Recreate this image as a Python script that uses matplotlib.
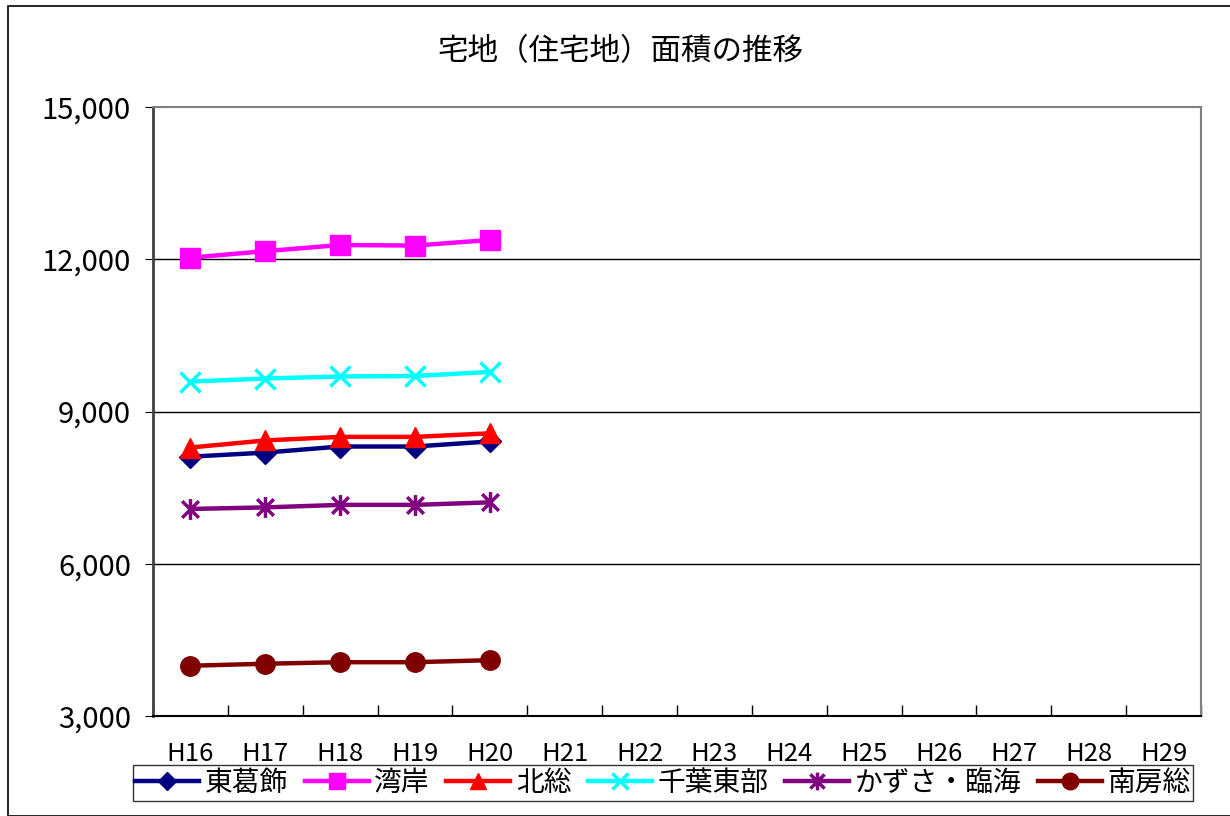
import matplotlib
matplotlib.use("Agg")
import matplotlib.pyplot as plt
from matplotlib.path import Path
from matplotlib.patches import Rectangle
from matplotlib.ticker import FuncFormatter, FixedLocator
import numpy as np

plt.rcParams['font.family'] = ['Noto Sans CJK JP', 'DejaVu Sans']

years = ['H16', 'H17', 'H18', 'H19', 'H20', 'H21', 'H22', 'H23',
         'H24', 'H25', 'H26', 'H27', 'H28', 'H29']

higashikatsushika = [8110, 8190, 8310, 8310, 8410]
wangan = [12030, 12160, 12280, 12270, 12380]
hokuso = [8290, 8430, 8500, 8500, 8570]
chiba_tobu = [9590, 9650, 9690, 9700, 9780]
kazusa_rinkai = [7080, 7110, 7160, 7160, 7210]
minamiboso = [3990, 4030, 4060, 4060, 4100]

names = ['東葛飾', '湾岸', '北総', '千葉東部', 'かずさ・臨海', '南房総']
colors = ['#000080', '#FF00FF', '#FF0000', '#00FFFF', '#800080', '#800000']

# excel style star: vertical stroke plus an x
star = Path([(0, -1), (0, 1), (-0.8, -0.8), (0.8, 0.8), (-0.8, 0.8), (0.8, -0.8)],
            [Path.MOVETO, Path.LINETO, Path.MOVETO, Path.LINETO, Path.MOVETO, Path.LINETO])
markers = ['D', 's', '^', 'x', star, 'o']
sizes = [11, 14, 14, 14, 15, 14]

series = [higashikatsushika, wangan, hokuso, chiba_tobu, kazusa_rinkai, minamiboso]

fig = plt.figure(figsize=(12.3, 8.16), dpi=100)
fig.patches.append(Rectangle((8 / 1230, 0), 1.2, 1 - 6 / 816, transform=fig.transFigure,
                             fill=False, edgecolor='black', linewidth=1.2))
ax = fig.add_axes([153 / 1230, 1 - 716 / 816, 1048 / 1230, 609 / 816])

x = np.arange(len(years))
for vals, name, c, m, s in zip(series, names, colors, markers, sizes):
    ax.plot(x[:len(vals)], vals, color=c, marker=m, markersize=s, linewidth=3.2,
            markeredgewidth=2.5 if m == 'x' or m is star else 1, label=name)

ax.set_xlim(-0.5, len(years) - 0.5)
ax.set_ylim(3000, 15000)
ax.set_yticks([3000, 6000, 9000, 12000, 15000])
ax.yaxis.set_major_formatter(FuncFormatter(lambda v, p: f'{int(v):,}'))
ax.set_xticks(x)
ax.set_xticklabels(years)
ax.xaxis.set_minor_locator(FixedLocator(np.arange(-0.5, len(years), 1)))
ax.tick_params(axis='x', which='major', length=0, pad=18, labelsize=18.5)
ax.tick_params(axis='x', which='minor', direction='in', length=8, width=1)
ax.tick_params(axis='y', direction='inout', length=12, pad=10, labelsize=21)
for v in [6000, 9000, 12000]:
    ax.axhline(v, color='black', linewidth=1, zorder=0)
for side in ['top', 'right']:
    ax.spines[side].set_color('#808080')
    ax.spines[side].set_linewidth(1.5)
ax.spines['left'].set_color('#404040')
ax.spines['left'].set_linewidth(2)
ax.spines['bottom'].set_linewidth(1.5)

fig.text(620 / 1230, 1 - 52 / 816, '宅地（住宅地）面積の推移', ha='center', va='center', fontsize=22)

leg = fig.legend(loc='center', bbox_to_anchor=(663 / 1230, 1 - 783 / 816), ncol=6,
                 fontsize=20, handlelength=2.3, handletextpad=0.2, columnspacing=0.6,
                 markerscale=0.85, frameon=True, fancybox=False, borderpad=0.1,
                 borderaxespad=0)
leg.get_frame().set_edgecolor('black')
leg.get_frame().set_linewidth(1)

fig.savefig('out.png', dpi=100)
